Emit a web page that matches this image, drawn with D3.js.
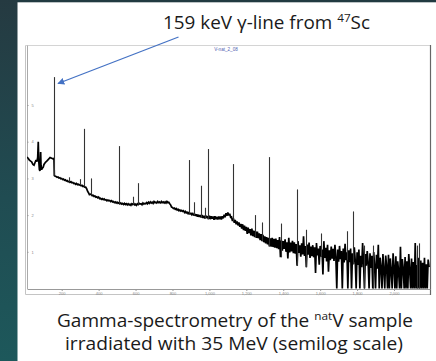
<!DOCTYPE html>
<html><head><meta charset="utf-8">
<script src="https://cdn.jsdelivr.net/npm/d3@7"></script>
<style>html,body{margin:0;padding:0;background:#fff;}svg{display:block;}</style>
</head><body>
<script>
// ---- data (log10 counts vs energy in keV) ----
const lowKeV = [12,18,25,32,37,44,50,56,61,66,70,73,76,79,82,84,86,88,91,94,100,104,112,119,128,137,146,154,158];
const lowLog = [3.58,3.55,3.50,3.47,3.45,3.38,3.36,3.44,3.50,3.46,3.58,4.00,3.45,3.24,3.20,3.38,3.72,3.36,3.24,3.27,3.31,3.38,3.44,3.47,3.52,3.57,3.55,3.53,3.55];
const contStartKeV = 160;
const contStepKeV = 5;
const contLog = [
3.08,3.06,3.05,3.03,3.04,3.01,3.02,2.99,3.00,2.97,2.98,2.95,2.96,2.93,2.94,2.91,2.92,2.89,2.91,2.88,
2.89,2.86,2.87,2.84,2.86,2.83,2.84,2.82,2.83,2.80,2.81,2.78,2.79,2.76,2.76,2.72,2.65,2.61,2.56,2.57,
2.56,2.53,2.54,2.51,2.52,2.49,2.50,2.47,2.49,2.45,2.46,2.43,2.45,2.42,2.44,2.41,2.42,2.39,2.41,2.39,
2.40,2.37,2.39,2.36,2.37,2.34,2.36,2.33,2.35,2.32,2.34,2.31,2.33,2.30,2.32,2.29,2.32,2.29,2.31,2.28,
2.31,2.28,2.30,2.27,2.31,2.29,2.32,2.28,2.30,2.27,2.31,2.29,2.32,2.30,2.31,2.28,2.33,2.30,2.32,2.31,
2.34,2.31,2.35,2.32,2.36,2.33,2.35,2.32,2.37,2.34,2.35,2.33,2.37,2.34,2.36,2.32,2.37,2.34,2.36,2.33,
2.36,2.33,2.37,2.34,2.35,2.31,2.28,2.22,2.21,2.18,2.19,2.16,2.18,2.14,2.16,2.12,2.14,2.11,2.13,2.10,
2.12,2.07,2.10,2.05,2.09,2.04,2.07,2.02,2.06,2.01,2.04,1.99,2.03,1.98,2.02,1.96,2.01,1.95,2.00,1.94,
2.00,1.92,1.98,1.91,1.99,1.92,1.97,1.89,1.98,1.89,1.97,1.90,1.96,1.87,1.97,1.89,1.95,1.88,1.96,1.89,
1.96,1.88,1.97,1.91,2.01,1.94,2.05,1.98,2.07,1.99,2.04,1.94,1.95,1.84,1.91,1.79,1.87,1.75,1.83,1.72,
1.80,1.68,1.76,1.63,1.75,1.59,1.71,1.57,1.68,1.49,1.66,1.51,1.62,1.45,1.63,1.43,1.58,1.40,1.56,1.38,
1.55,1.37,1.50,1.32,1.48,1.29,1.46,1.26,1.42,1.23,1.40,1.20,1.38,1.15,1.37,1.14,1.38,1.13,1.35,1.11,
1.36,1.10,1.32,1.07,1.40,0.85,1.31,1.03,1.29,1.08,1.34,1.00,1.26,0.82,1.38,0.98,1.25,1.01,1.30,0.96,
1.26,0.95,1.21,0.62,1.29,0.97,1.18,0.87,1.23,0.93,1.42,0.89,1.16,0.58,1.20,0.92,1.25,0.83,1.14,0.88,
1.18,0.85,1.12,0.42,1.24,0.90,1.09,0.65,1.16,0.87,1.06,0.38,1.29,0.83,1.11,0.74,1.19,0.46,1.04,0.77,
1.14,0.81,1.08,0.75,1.19,0.85,0.00,1.06,0.73,1.16,0.80,1.02,0.00,1.09,0.71,1.22,0.77,0.99,0.00,1.04,
0.72,1.09,0.00,0.96,0.66,1.12,0.76,0.00,0.99,0.64,1.06,0.00,0.89,0.58,1.24,0.70,0.00,0.94,0.62,1.02,
0.70,0.00,0.96,0.56,0.89,0.00,0.99,0.61,0.00,0.92,0.54,1.19,0.00,0.84,0.58,0.00,0.94,0.51,0.00,0.90,
0.60,0.00,0.92,0.00,0.82,0.48,0.00,0.96,0.58,0.00,0.88,0.00,0.74,0.46,0.00,1.14,0.00,0.80,0.54,0.00,
0.86,0.00,0.74,0.00,0.94,0.51,0.00,0.82,0.00,0.72,0.00,1.24,0.00,0.64,0.00,0.84,0.00,0.76,0.00,0.70,
0.00,0.84,0.00,0.66,0.00,0.79,0.58];
const peakKeV = [159,239,299,320,357,511,586,613,889,917,953,976,992,1128,1247,1285,1323,1388,1473,1523,1604,1744,1778,1837,1885,2124,2135];
const peakLog = [5.76,3.03,2.98,4.35,3.00,3.88,2.50,2.87,3.50,2.35,2.80,2.20,3.80,3.39,2.00,1.80,3.58,1.77,2.70,1.60,1.50,1.56,2.10,1.17,1.17,1.17,1.23];
const xTicks = [200,400,600,800,1000,1200,1400,1600,1800,2000];
const yTicks = [1,2,3,4,5];
const plotTitle = "V-nat_2_08";
const annotation = {pre: "159 keV γ-line from ", sup: "47", post: "Sc"};
const caption1 = {pre: "Gamma-spectrometry of the ", sup: "nat", post: "V sample"};
const caption2 = "irradiated with 35 MeV (semilog scale)";

// ---- build series ----
const series = lowKeV.map((e,i)=>({e, v: lowLog[i]}))
  .concat(contLog.map((v,i)=>({e: contStartKeV + i*contStepKeV, v})));

const W = 436, H = 361;
const svg = d3.select("body").append("svg").attr("width", W).attr("height", H);
const defs = svg.append("defs");
const grad = defs.append("linearGradient").attr("id","strip").attr("x1",0).attr("y1",0).attr("x2",0).attr("y2",1);
grad.append("stop").attr("offset","0%").attr("stop-color","#253a41");
grad.append("stop").attr("offset","55%").attr("stop-color","#204c52");
grad.append("stop").attr("offset","100%").attr("stop-color","#1d585b");
svg.append("rect").attr("width",W).attr("height",H).attr("fill","#fff");
svg.append("rect").attr("x",0).attr("y",0).attr("width",W).attr("height",2.3).attr("fill","#213a41");
svg.append("rect").attr("x",0).attr("y",0).attr("width",17.5).attr("height",H).attr("fill","url(#strip)");

// ---- scales ----
const x = d3.scaleLinear().domain([12, 2195]).range([27, 430]);
const y = d3.scaleLinear().domain([0, 6.635]).range([288.5, 45]);

// frame
svg.append("line").attr("x1",25.5).attr("x2",430).attr("y1",45.5).attr("y2",45.5).attr("stroke","#d4d4d4");
svg.append("line").attr("x1",25.5).attr("x2",25.5).attr("y1",45.5).attr("y2",294.5).attr("stroke","#c4c4c4");
svg.append("line").attr("x1",25.5).attr("x2",430.5).attr("y1",294.5).attr("y2",294.5).attr("stroke","#c4c4c4");
svg.append("line").attr("x1",430.5).attr("x2",430.5).attr("y1",45).attr("y2",295).attr("stroke","#666").attr("stroke-width",1.2);

// title
svg.append("text").attr("x",226).attr("y",50.5).attr("text-anchor","middle")
  .attr("font-family","Liberation Sans, Arial, sans-serif").attr("font-size",4.6).attr("fill","#5060b0").text(plotTitle);

// axes
const xAxis = svg.append("g").attr("transform","translate(0,289)")
  .call(d3.axisBottom(x).tickValues(xTicks).tickSize(2).tickPadding(1.5).tickSizeOuter(0));
xAxis.select(".domain").attr("stroke","#999");
xAxis.selectAll(".tick line").attr("stroke","#999");
xAxis.selectAll(".tick text").attr("font-size",4).attr("fill","#888").attr("font-family","Liberation Sans, Arial, sans-serif");
const yAxis = svg.append("g").attr("transform","translate(27,0)")
  .call(d3.axisRight(y).tickValues(yTicks).tickSize(1.5).tickPadding(3).tickSizeOuter(0).tickFormat(d3.format("d")));
yAxis.select(".domain").attr("stroke","#aaa");
yAxis.selectAll(".tick line").attr("stroke","#999");
yAxis.selectAll(".tick text").attr("font-size",4).attr("fill","#888").attr("font-family","Liberation Sans, Arial, sans-serif");

// clip
defs.append("clipPath").attr("id","plotclip").append("rect").attr("x",27).attr("y",45).attr("width",403).attr("height",244);
const plot = svg.append("g").attr("clip-path","url(#plotclip)");

const line = d3.line().x(d=>x(d.e)).y(d=>y(d.v));
plot.append("path").datum(series).attr("d",line).attr("fill","none")
  .attr("stroke","#000").attr("stroke-width",1.7).attr("stroke-linejoin","miter").attr("stroke-miterlimit",2);

const bis = d3.bisector(d=>d.e).left;
const peaks = peakKeV.map((e,i)=>{
  const j = Math.max(1, Math.min(series.length-1, bis(series, e)));
  const base = Math.min(series[j-1].v, series[j].v);
  return {e, top: peakLog[i], base};
});
plot.selectAll("line.pk").data(peaks).join("line").attr("class","pk")
  .attr("x1",d=>Math.round(x(d.e))+0.5).attr("x2",d=>Math.round(x(d.e))+0.5)
  .attr("y1",d=>y(d.base)).attr("y2",d=>y(d.top))
  .attr("stroke","#333").attr("stroke-width",1.1);

// annotation arrow
const mk = defs.append("marker").attr("id","arr").attr("viewBox","0 0 10 10").attr("refX",9).attr("refY",5)
  .attr("markerWidth",7).attr("markerHeight",7).attr("orient","auto").attr("markerUnits","userSpaceOnUse");
mk.append("path").attr("d","M0,0L10,5L0,10z").attr("fill","#4472c4");
svg.append("line").attr("x1",178.5).attr("y1",37).attr("x2",58).attr("y2",83.5)
  .attr("stroke","#4472c4").attr("stroke-width",1.3).attr("marker-end","url(#arr)");

const font = "Open Sans, Noto Sans, sans-serif";
function richText(obj, xc, yb, size, len){
  const t = svg.append("text").attr("x",xc).attr("y",yb).attr("font-family",font).attr("font-size",size)
    .attr("fill","#1a1a1a").attr("textLength",len).attr("lengthAdjust","spacingAndGlyphs");
  t.append("tspan").text(obj.pre);
  t.append("tspan").attr("font-size",size*0.62).attr("dy",-size*0.38).text(obj.sup);
  t.append("tspan").attr("dy",size*0.38).text(obj.post);
  return t;
}
richText(annotation, 163, 29.3, 18.5, 207);
richText(caption1, 57, 326.5, 18, 356);
svg.append("text").attr("x",65).attr("y",350).attr("font-family",font).attr("font-size",18)
  .attr("fill","#1a1a1a").attr("textLength",338).attr("lengthAdjust","spacingAndGlyphs").text(caption2);
</script>
</body></html>
